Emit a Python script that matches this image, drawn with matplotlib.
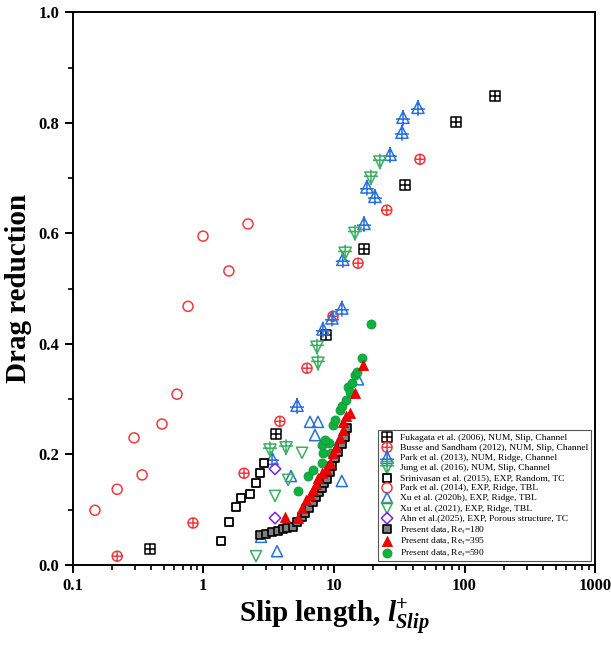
import numpy as np
import matplotlib
matplotlib.use("Agg")
import matplotlib.pyplot as plt
from matplotlib.path import Path

plt.rcParams['font.family'] = 'Liberation Serif'
plt.rcParams['mathtext.fontset'] = 'custom'
plt.rcParams['mathtext.rm'] = 'Liberation Serif'
plt.rcParams['mathtext.it'] = 'Liberation Serif:italic'
plt.rcParams['mathtext.bf'] = 'Liberation Serif:bold'
plt.rcParams['mathtext.bfit'] = 'Liberation Serif:italic:bold'

# ---- literature data ----
fukagata_x = [0.39, 3.60, 8.69, 17.0, 35.0, 86.0, 171]
fukagata_y = [0.029, 0.237, 0.416, 0.571, 0.687, 0.801, 0.848]

busse_x = [0.219, 0.834, 2.05, 3.86, 6.22, 9.84, 15.3, 25.4, 45.6]
busse_y = [0.016, 0.076, 0.166, 0.260, 0.356, 0.450, 0.546, 0.642, 0.734]

park13_x = [3.36, 5.22, 8.24, 9.66, 11.5, 11.7, 17.0, 17.9, 20.6, 26.9, 33.2, 33.8, 44.0]
park13_y = [0.193, 0.289, 0.427, 0.447, 0.465, 0.553, 0.618, 0.684, 0.667, 0.743, 0.783, 0.810, 0.828]

jung_x = [3.24, 4.30, 7.42, 7.55, 12.2, 14.5, 19.2, 22.5]
jung_y = [0.208, 0.212, 0.394, 0.365, 0.564, 0.600, 0.700, 0.729]

srini_x = [1.37, 1.57, 1.78, 1.94, 2.28, 2.53, 2.72, 2.92]
srini_y = [0.043, 0.078, 0.105, 0.121, 0.128, 0.148, 0.166, 0.184]

park14_x = [0.148, 0.219, 0.295, 0.340, 0.483, 0.629, 0.764, 0.995, 1.57, 2.20]
park14_y = [0.099, 0.137, 0.230, 0.163, 0.255, 0.309, 0.468, 0.595, 0.532, 0.617]

xu20_x = [2.77, 3.67, 4.69, 11.5, 6.56, 7.55, 7.17, 11.1, 15.3]
xu20_y = [0.051, 0.025, 0.161, 0.152, 0.259, 0.259, 0.235, 0.226, 0.336]

xu21_x = [2.53, 3.54, 4.46, 5.70]
xu21_y = [0.016, 0.125, 0.154, 0.203]

ahn_x = [3.54, 3.54]
ahn_y = [0.174, 0.085]

# ---- present data ----
re180_x = [2.72, 3.02, 3.36, 3.73, 4.08, 4.37, 4.86, 5.22, 5.70, 6.01, 6.45, 6.92,
           7.30, 7.69, 8.11, 8.40, 8.86, 9.34, 9.67, 10.2, 10.7, 11.5, 12.2, 12.6]
re180_y = [0.054, 0.056, 0.060, 0.061, 0.065, 0.067, 0.069, 0.078, 0.087, 0.094, 0.103, 0.114,
           0.123, 0.132, 0.139, 0.148, 0.156, 0.168, 0.179, 0.193, 0.204, 0.219, 0.231, 0.248]

re395_x = [4.22, 5.31, 5.70, 6.11, 6.56, 6.92, 7.30, 7.55, 8.11, 8.69, 9.34, 9.84,
           10.4, 11.1, 11.7, 11.7, 12.4, 13.3, 14.5, 16.7]
re395_y = [0.087, 0.085, 0.103, 0.118, 0.127, 0.136, 0.146, 0.157, 0.166, 0.174, 0.184, 0.203,
           0.213, 0.230, 0.244, 0.259, 0.269, 0.275, 0.311, 0.362]

re590_x = [5.31, 6.34, 6.92, 8.11, 8.25, 9.49, 8.11, 9.17, 8.54, 9.84, 10.2, 11.1,
           11.5, 12.4, 12.8, 13.3, 13.8, 14.5, 15.0, 16.4, 19.2]
re590_y = [0.134, 0.161, 0.172, 0.184, 0.203, 0.203, 0.217, 0.221, 0.226, 0.253, 0.262, 0.280,
           0.288, 0.298, 0.322, 0.313, 0.329, 0.344, 0.349, 0.374, 0.436]


def shape_with_plus(shape, lines):
    """closed outline plus a few straight strokes, used as an open marker"""
    verts = list(shape) + [shape[0]]
    codes = [Path.MOVETO] + [Path.LINETO] * (len(shape) - 1) + [Path.CLOSEPOLY]
    for a, b in lines:
        verts += [a, b]
        codes += [Path.MOVETO, Path.LINETO]
    return Path(verts, codes)


sq_plus = shape_with_plus([(-1, -1), (1, -1), (1, 1), (-1, 1)],
                          [((-1, 0), (1, 0)), ((0, -1), (0, 1))])
circ = Path.unit_circle()
circ_plus = Path.make_compound_path(
    circ, Path([(-1, 0), (1, 0), (0, -1), (0, 1)],
               [Path.MOVETO, Path.LINETO, Path.MOVETO, Path.LINETO]))
tri_up_plus = shape_with_plus([(0, 1), (-1, -1), (1, -1)],
                              [((-1.15, -0.3), (1.15, -0.3)), ((0, 1.2), (0, -1.4))])
tri_dn_plus = shape_with_plus([(0, -1), (-1, 1), (1, 1)],
                              [((-1.15, 0.3), (1.15, 0.3)), ((0, -1.2), (0, 1.4))])

red = '#F0393C'
blue = '#2A6FDC'
green = '#3DAE63'
purple = '#7A22E0'
lw = 1.1

fig, ax = plt.subplots(figsize=(6.11, 6.45), dpi=100)
fig.subplots_adjust(left=0.119, right=0.974, bottom=0.124, top=0.981)

ax.scatter(fukagata_x, fukagata_y, s=44, marker=sq_plus, facecolors='white',
           edgecolors='black', linewidths=lw, label='Fukagata et al. (2006), NUM, Slip, Channel', zorder=3)
ax.scatter(busse_x, busse_y, s=52, marker=circ_plus, facecolors='none',
           edgecolors=red, linewidths=lw, label='Busse and Sandham (2012), NUM, Slip, Channel', zorder=3)
ax.scatter(park13_x, park13_y, s=150, marker=tri_up_plus, facecolors='none',
           edgecolors=blue, linewidths=lw, label='Park et al. (2013), NUM, Ridge, Channel', zorder=3)
ax.scatter(jung_x, jung_y, s=150, marker=tri_dn_plus, facecolors='none',
           edgecolors=green, linewidths=lw, label='Jung et al. (2016), NUM, Slip, Channel', zorder=3)
ax.scatter(srini_x, srini_y, s=40, marker='s', facecolors='white',
           edgecolors='black', linewidths=1.3, label='Srinivasan et al. (2015), EXP, Random, TC', zorder=3)
ax.scatter(park14_x, park14_y, s=52, marker='o', facecolors='none',
           edgecolors=red, linewidths=lw, label='Park et al. (2014), EXP, Ridge, TBL', zorder=3)
ax.scatter(xu20_x, xu20_y, s=64, marker='^', facecolors='none',
           edgecolors=blue, linewidths=lw, label='Xu et al. (2020b), EXP, Ridge, TBL', zorder=3)
ax.scatter(xu21_x, xu21_y, s=64, marker='v', facecolors='none',
           edgecolors=green, linewidths=lw, label='Xu et al. (2021), EXP, Ridge, TBL', zorder=3)
ax.scatter(ahn_x, ahn_y, s=34, marker='D', facecolors='none',
           edgecolors=purple, linewidths=lw, label='Ahn et al.(2025), EXP, Porous structure, TC', zorder=3)

ax.scatter(re180_x, re180_y, s=38, marker='s', facecolors='#7F7F7F',
           edgecolors='black', linewidths=1.2, label=r'Present data, Re$_{\tau}$=180', zorder=4)
ax.scatter(re590_x, re590_y, s=42, marker='o', facecolors='#10B040',
           edgecolors='#0E9A38', linewidths=0.6, label=r'Present data, Re$_{\tau}$=590', zorder=4)
ax.scatter(re395_x, re395_y, s=52, marker='^', facecolors='#F00000',
           edgecolors='#E00000', linewidths=0.6, label=r'Present data, Re$_{\tau}$=395', zorder=5)

ax.set_xscale('log')
ax.set_xlim(0.1, 1000)
ax.set_ylim(0.0, 1.0)
ax.set_xticks([0.1, 1, 10, 100, 1000])
ax.set_xticklabels(['0.1', '1', '10', '100', '1000'])
ax.set_yticks(np.arange(0, 1.01, 0.2))
ax.set_yticks(np.arange(0.1, 1.0, 0.2), minor=True)
ax.yaxis.set_major_formatter(plt.FormatStrFormatter('%.1f'))

for lab in ax.get_xticklabels() + ax.get_yticklabels():
    lab.set_fontweight('bold')
    lab.set_fontsize(12)

ax.tick_params(which='major', direction='out', length=6, width=1.4, top=False, right=False)
ax.tick_params(which='minor', direction='out', length=3.5, width=1.2, top=False, right=False)
for sp in ax.spines.values():
    sp.set_linewidth(1.4)

ax.set_ylabel('Drag reduction', fontsize=21, fontweight='bold', labelpad=5)
ax.set_xlabel(r'Slip length, $\mathbfit{l}^{\mathbf{+}}_{\mathbfit{Slip}}$',
              fontsize=21, fontweight='bold', labelpad=2)

# legend order follows the list of sources, present data last
handles, labels = ax.get_legend_handles_labels()
order = [0, 1, 2, 3, 4, 5, 6, 7, 8, 9, 11, 10]
leg = ax.legend([handles[i] for i in order], [labels[i] for i in order],
                loc='lower right', fontsize=6.8, frameon=True, fancybox=False,
                edgecolor='#555555', framealpha=1, borderaxespad=0.4,
                handletextpad=0.7, labelspacing=0.16, borderpad=0.3, handlelength=1.4)
leg.get_frame().set_linewidth(0.8)

fig.savefig('out.png', dpi=100)
